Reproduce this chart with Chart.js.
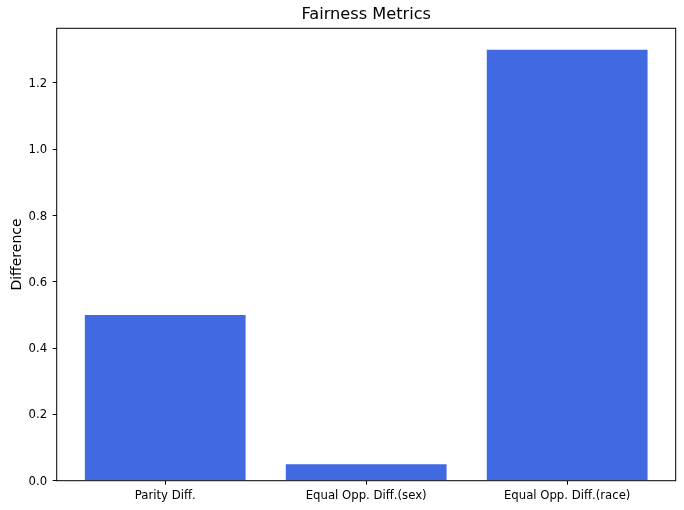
<!DOCTYPE html>
<html>
<head>
<meta charset="utf-8">
<script src="https://cdn.jsdelivr.net/npm/chart.js@4/dist/chart.umd.min.js"></script>
<style>
html,body{margin:0;padding:0;background:#fff;}
canvas{display:block;}
</style>
</head>
<body>
<canvas id="c" width="684" height="510"></canvas>
<script>
const categories = ["Parity Diff.", "Equal Opp. Diff.(sex)", "Equal Opp. Diff.(race)"];
const values = [0.5, 0.05, 1.3];
const yTickValues = [0, 0.2, 0.4, 0.6, 0.8, 1.0, 1.2];
const yMax = 1.365;

const FONT = "'DejaVu Sans', sans-serif";

const framePlugin = {
  id: 'frame',
  afterDraw(chart) {
    const a = chart.chartArea, ctx = chart.ctx;
    ctx.save();
    ctx.strokeStyle = '#000';
    ctx.lineWidth = 1;
    ctx.strokeRect(a.left, a.top, a.right - a.left, a.bottom - a.top);
    ctx.restore();
  }
};

new Chart(document.getElementById('c'), {
  type: 'bar',
  data: {
    datasets: [{
      data: values.map((v, i) => ({x: i, y: v})),
      backgroundColor: '#4169E1',
      borderWidth: 0,
      categoryPercentage: 1.0,
      barPercentage: 0.8
    }]
  },
  options: {
    responsive: false,
    animation: false,
    layout: {padding: {left: 0, right: 8.3, top: 0, bottom: 0}},
    plugins: {
      legend: {display: false},
      tooltip: {enabled: false},
      title: {
        display: true,
        text: 'Fairness Metrics',
        fullSize: false,
        color: '#000',
        font: {family: FONT, size: 16.2, weight: 'normal', lineHeight: 1.2},
        padding: {top: 5.4, bottom: 3.46}
      }
    },
    scales: {
      x: {
        type: 'linear',
        min: -0.54,
        max: 2.54,
        offset: false,
        afterBuildTicks(scale) {
          scale.ticks = categories.map((c, i) => ({value: i}));
        },
        afterFit(scale) { scale.height = 29.3; },
        ticks: {
          color: '#000',
          font: {family: FONT, size: 11.7, lineHeight: 1.2},
          padding: 4.3,
          maxRotation: 0,
          autoSkip: false,
          callback: (v) => categories[v]
        },
        grid: {offset: false, drawOnChartArea: false, drawTicks: true, tickLength: 4, color: '#000', lineWidth: 1},
        border: {display: false}
      },
      y: {
        type: 'linear',
        min: 0,
        max: yMax,
        afterBuildTicks(scale) {
          scale.ticks = yTickValues.map(v => ({value: v}));
        },
        afterFit(scale) { scale.width = 56.7; },
        ticks: {
          color: '#000',
          font: {family: FONT, size: 11.7, lineHeight: 1.2},
          padding: 5.5,
          labelOffset: 1,
          callback: (v) => Number(v).toFixed(1)
        },
        grid: {drawOnChartArea: false, drawTicks: true, tickLength: 4, color: '#000', lineWidth: 1},
        border: {display: false},
        title: {
          display: true,
          text: 'Difference',
          color: '#000',
          font: {family: FONT, size: 14, lineHeight: 1.2},
          padding: {top: 8.5, bottom: 0}
        }
      }
    }
  },
  plugins: [framePlugin]
});
</script>
</body>
</html>
